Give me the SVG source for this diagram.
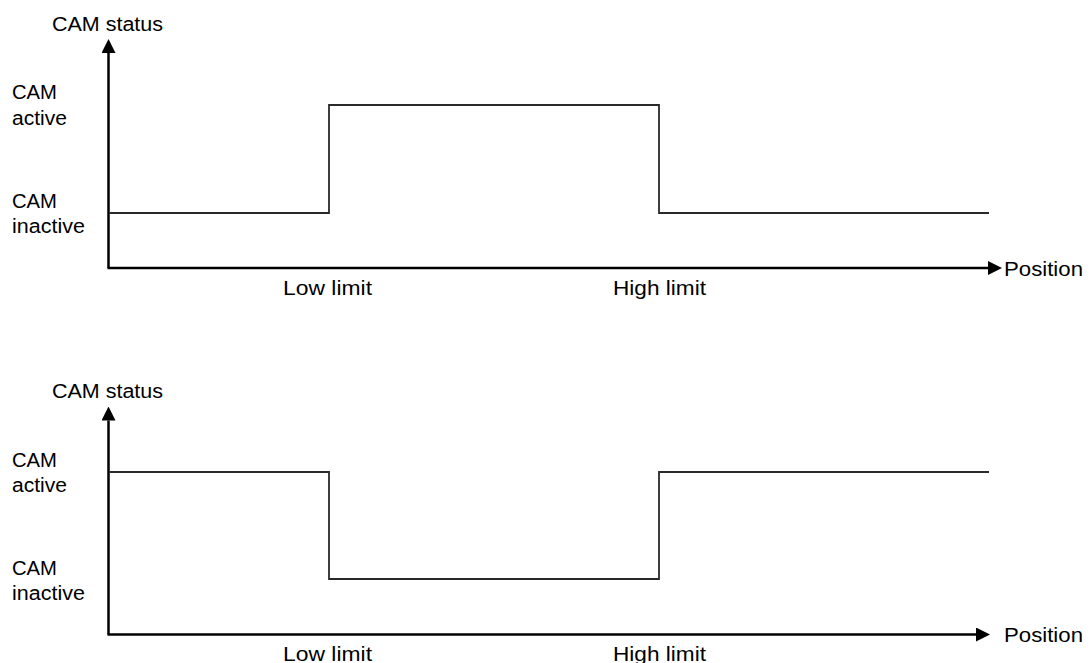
<svg xmlns="http://www.w3.org/2000/svg" width="1091" height="663" viewBox="0 0 1091 663">
<style>
.t{font-family:"Liberation Sans",Arial,sans-serif;font-size:19.5px;fill:#000}
.ax{stroke:#000;stroke-width:2.5;fill:none}
.sig{stroke:#2a2a2a;stroke-width:1.8;fill:none;stroke-linejoin:miter}
</style>
<defs>
<marker id="arr" viewBox="0 0 14 14" refX="0" refY="7" markerWidth="14" markerHeight="14" orient="auto" markerUnits="userSpaceOnUse">
<path d="M0,0 L14,7 L0,14 z" fill="#000"/>
</marker>
</defs>
<rect width="1091" height="663" fill="#fff"/>
<g id="connectors">
<line class="ax" x1="108.5" y1="268" x2="108.5" y2="53" marker-end="url(#arr)"/>
<line class="ax" x1="107.5" y1="268" x2="988" y2="268" marker-end="url(#arr)"/>
<polyline class="sig" points="109,213 329,213 329,105 659,105 659,213 989,213"/>
<line class="ax" x1="108.5" y1="634.5" x2="108.5" y2="420.5" marker-end="url(#arr)"/>
<line class="ax" x1="107.5" y1="634.5" x2="976" y2="634.5" marker-end="url(#arr)"/>
<polyline class="sig" points="109,472 329,472 329,579 659,579 659,472 989,472"/>
</g>
<g id="top-chart">
<text class="t" x="52" y="31" textLength="111" lengthAdjust="spacingAndGlyphs">CAM status</text>
<text class="t" x="12" y="99" textLength="45" lengthAdjust="spacingAndGlyphs">CAM</text>
<text class="t" x="12" y="125" textLength="55" lengthAdjust="spacingAndGlyphs">active</text>
<text class="t" x="12" y="208" textLength="45" lengthAdjust="spacingAndGlyphs">CAM</text>
<text class="t" x="12" y="233" textLength="73" lengthAdjust="spacingAndGlyphs">inactive</text>
<text class="t" x="283" y="295" textLength="89" lengthAdjust="spacingAndGlyphs">Low limit</text>
<text class="t" x="613" y="295" textLength="93" lengthAdjust="spacingAndGlyphs">High limit</text>
<text class="t" x="1004" y="276" textLength="79" lengthAdjust="spacingAndGlyphs">Position</text>
</g>
<g id="bottom-chart">
<text class="t" x="52" y="398" textLength="111" lengthAdjust="spacingAndGlyphs">CAM status</text>
<text class="t" x="12" y="467" textLength="45" lengthAdjust="spacingAndGlyphs">CAM</text>
<text class="t" x="12" y="492" textLength="55" lengthAdjust="spacingAndGlyphs">active</text>
<text class="t" x="12" y="575" textLength="45" lengthAdjust="spacingAndGlyphs">CAM</text>
<text class="t" x="12" y="600" textLength="73" lengthAdjust="spacingAndGlyphs">inactive</text>
<text class="t" x="283" y="661" textLength="89" lengthAdjust="spacingAndGlyphs">Low limit</text>
<text class="t" x="613" y="661" textLength="93" lengthAdjust="spacingAndGlyphs">High limit</text>
<text class="t" x="1004" y="642" textLength="79" lengthAdjust="spacingAndGlyphs">Position</text>
</g>
</svg>
